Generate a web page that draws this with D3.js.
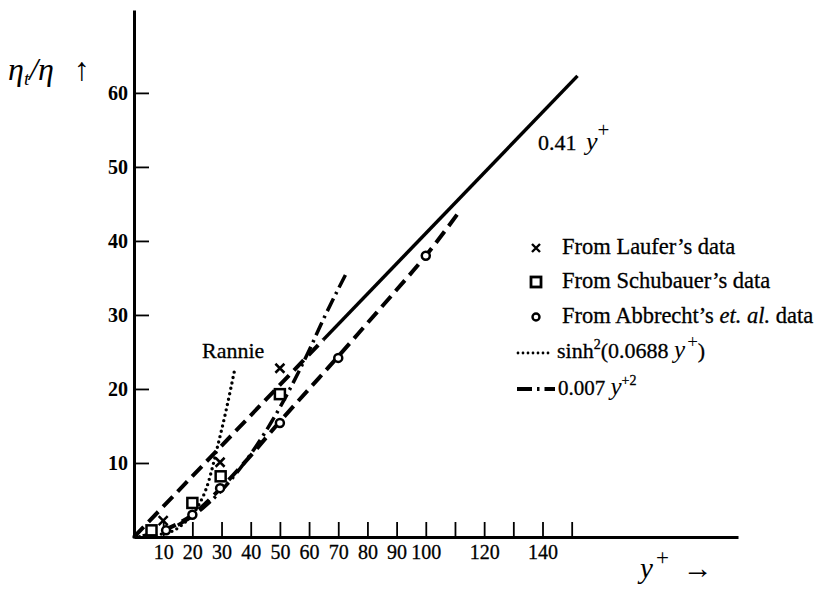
<!DOCTYPE html>
<html>
<head>
<meta charset="utf-8">
<script src="https://cdn.jsdelivr.net/npm/d3@7"></script>
<style>
  body { margin: 0; background: #fff; }
  text { font-family: "Liberation Serif", "DejaVu Serif", serif; fill: #000; }
</style>
</head>
<body>
<div id="chart"></div>
<script>
var width = 822;
var height = 589;

// axis ticks
var xTicks = [10, 20, 30, 40, 50, 60, 70, 80, 90, 100, 110, 120, 130, 140, 150];
var xTickLabels = [10, 20, 30, 40, 50, 60, 70, 80, 90, 100, 120, 140];
var yTicks = [10, 20, 30, 40, 50, 60];

// 0.41 y+ (dashed near the wall, solid further out)
var kappaDashX = [0, 65];
var kappaDashY = [0, 26.7];
var kappaSolidX = [65, 152];
var kappaSolidY = [26.7, 62.3];

// lower long dashed curve
var lowerX = [3, 10, 20, 30, 40, 50, 60, 70, 80, 90, 100, 111];
var lowerY = [0.1, 0.9, 3.0, 6.7, 11.0, 15.6, 20.0, 24.4, 28.9, 33.4, 38.0, 43.7];

// Rannie, sinh^2(0.0688 y+)
var rannieX = [0, 8, 14, 18, 22, 25, 28.8, 31.5, 34.6];
var rannieY = [0, 0.3, 0.95, 2.2, 4.2, 6.8, 12.5, 17.0, 22.8];

// 0.007 y+^2
var quadX = [15, 20, 30, 40, 50, 60, 65, 70, 73];
var quadY = [1.6, 2.8, 6.3, 11.2, 17.5, 25.2, 29.5, 33.5, 35.8];

// measured points
var lauferX = [10, 29.5, 50];
var lauferY = [2.2, 10.1, 22.8];
var schubX = [6, 20, 29.7, 50];
var schubY = [0.9, 4.6, 8.2, 19.3];
var abbrX = [11, 20, 29.5, 50, 70, 100];
var abbrY = [0.9, 3.0, 6.6, 15.4, 24.2, 38.0];

var svg = d3.select("#chart")
			.append("svg")
			.attr("width", width)
			.attr("height", height);

var x = d3.scaleLinear().domain([0, 207]).range([134, 738]);
var y = d3.scaleLinear().domain([0, 71.2]).range([537, 10]);

function pts(xs, ys) {
	return xs.map(function(d, i) { return [x(d), y(ys[i])]; });
}

var line = d3.line().curve(d3.curveMonotoneX);

// axes
var xAxis = d3.axisBottom(x)
			.tickValues(xTicks)
			.tickSizeInner(-15)
			.tickSizeOuter(0)
			.tickPadding(8)
			.tickFormat(function(d) { return xTickLabels.indexOf(d) >= 0 ? d : ""; });

var gx = svg.append("g")
			.attr("transform", "translate(0," + y(0) + ")")
			.call(xAxis);
gx.selectAll("text").attr("font-size", 20).attr("font-family", "Liberation Serif")
	.attr("stroke", "#000").attr("stroke-width", 0.3);

var yAxis = d3.axisLeft(y)
			.tickValues(yTicks)
			.tickSizeInner(-15)
			.tickSizeOuter(0)
			.tickPadding(6);

var gy = svg.append("g")
			.attr("transform", "translate(" + x(0) + ",0)")
			.call(yAxis);
gy.selectAll("text").attr("font-size", 20).attr("font-weight", "bold").attr("font-family", "Liberation Serif");

svg.selectAll(".domain").attr("stroke", "#000").attr("stroke-width", 3);
svg.selectAll(".tick line").attr("stroke", "#000").attr("stroke-width", 1.8);

// curves
var curves = svg.append("g").attr("fill", "none").attr("stroke", "#000");

curves.append("path")
		.attr("d", line(pts(kappaDashX, kappaDashY)))
		.attr("stroke-width", 4)
		.attr("stroke-dasharray", "14,7");

curves.append("path")
		.attr("d", line(pts(kappaSolidX, kappaSolidY)))
		.attr("stroke-width", 3.5);

curves.append("path")
		.attr("d", line(pts(lowerX, lowerY)))
		.attr("stroke-width", 4)
		.attr("stroke-dasharray", "14,7");

curves.append("path")
		.attr("d", line(pts(quadX, quadY)))
		.attr("stroke-width", 3.5)
		.attr("stroke-dasharray", "14,5,2.5,5");

curves.append("path")
		.attr("d", line(pts(rannieX, rannieY)))
		.attr("stroke-width", 3.4)
		.attr("stroke-linecap", "round")
		.attr("stroke-dasharray", "0,5.5");

// markers
var marks = svg.append("g").attr("fill", "#fff").attr("stroke", "#000").attr("stroke-width", 2.5);

function cross(g, cx, cy, s) {
	g.append("path")
		.attr("d", "M" + (cx - s) + "," + (cy - s) + "L" + (cx + s) + "," + (cy + s) +
					"M" + (cx - s) + "," + (cy + s) + "L" + (cx + s) + "," + (cy - s))
		.attr("fill", "none");
}

for (var i = 0; i < schubX.length; i++) {
	marks.append("rect")
		.attr("x", x(schubX[i]) - 5)
		.attr("y", y(schubY[i]) - 5)
		.attr("width", 10)
		.attr("height", 10);
}
for (i = 0; i < abbrX.length; i++) {
	marks.append("circle")
		.attr("cx", x(abbrX[i]))
		.attr("cy", y(abbrY[i]))
		.attr("r", 4);
}
for (i = 0; i < lauferX.length; i++) {
	cross(marks, x(lauferX[i]), y(lauferY[i]), 4.5);
}

// labels
var lab = svg.append("g");

lab.append("text").attr("x", 202).attr("y", 358).attr("font-size", 22)
	.attr("stroke", "#000").attr("stroke-width", 0.3).text("Rannie");

var k = lab.append("text").attr("x", 538).attr("y", 150).attr("font-size", 22);
k.append("tspan").attr("stroke", "#000").attr("stroke-width", 0.3).text("0.41 ");
k.append("tspan").attr("font-style", "italic").attr("font-size", 26).attr("dx", 4).text("y");
k.append("tspan").attr("dy", -13).attr("font-size", 21).text("+");

var yl = lab.append("text").attr("x", 8).attr("y", 80).attr("font-size", 32).attr("font-style", "italic");
yl.append("tspan").text("η");
yl.append("tspan").attr("dy", 5).attr("font-size", 19).text("t");
yl.append("tspan").attr("dy", -5).text("/η");
yl.append("tspan").attr("dx", 20).attr("font-style", "normal").attr("font-size", 32).text("↑");

var xl = lab.append("text").attr("x", 640).attr("y", 578).attr("font-size", 29).attr("font-style", "italic");
xl.append("tspan").text("y");
xl.append("tspan").attr("dy", -13).attr("dx", 3).attr("font-style", "normal").attr("font-size", 23).text("+");
xl.append("tspan").attr("dy", 13).attr("dx", 14).attr("font-style", "normal").attr("font-size", 30).text("→");

// legend
var leg = svg.append("g");
var rowY = [254, 288, 323, 358, 395];

cross(leg.append("g").attr("stroke", "#000").attr("stroke-width", 2.4), 536, rowY[0] - 6, 4);
leg.append("rect").attr("x", 531).attr("y", rowY[1] - 11).attr("width", 10).attr("height", 10)
	.attr("fill", "#fff").attr("stroke", "#000").attr("stroke-width", 2.8);
leg.append("circle").attr("cx", 536).attr("cy", rowY[2] - 6).attr("r", 3.5)
	.attr("fill", "#fff").attr("stroke", "#000").attr("stroke-width", 2.4);

leg.append("line").attr("x1", 518).attr("x2", 553).attr("y1", rowY[3] - 5).attr("y2", rowY[3] - 5)
	.attr("stroke", "#000").attr("stroke-width", 2.8).attr("stroke-linecap", "round").attr("stroke-dasharray", "0,5");
leg.append("line").attr("x1", 517).attr("x2", 555).attr("y1", rowY[4] - 6).attr("y2", rowY[4] - 6)
	.attr("stroke", "#000").attr("stroke-width", 3.8).attr("stroke-dasharray", "15,5,2.5,5");

var legText = leg.append("g").attr("font-size", 22.5).attr("stroke", "#000").attr("stroke-width", 0.3);

legText.append("text").attr("x", 562).attr("y", rowY[0]).text("From Laufer’s data");
legText.append("text").attr("x", 562).attr("y", rowY[1]).text("From Schubauer’s data");
var t3 = legText.append("text").attr("x", 562).attr("y", rowY[2]);
t3.append("tspan").text("From Abbrecht’s ");
t3.append("tspan").attr("font-style", "italic").text("et. al.");
t3.append("tspan").text(" data");

var t4 = legText.append("text").attr("x", 557).attr("y", rowY[3]).attr("font-size", 22);
t4.append("tspan").text("sinh");
t4.append("tspan").attr("dy", -9).attr("font-size", 14).text("2");
t4.append("tspan").attr("dy", 9).text("(0.0688 ");
t4.append("tspan").attr("font-style", "italic").attr("font-size", 25).attr("stroke-width", 0).text("y");
t4.append("tspan").attr("dy", -10).attr("dx", 2).attr("font-size", 19).attr("stroke-width", 0).text("+");
t4.append("tspan").attr("dy", 10).text(")");

var t5 = legText.append("text").attr("x", 558).attr("y", rowY[4]).attr("font-size", 21);
t5.append("tspan").text("0.007 ");
t5.append("tspan").attr("font-style", "italic").attr("font-size", 25).attr("stroke-width", 0).text("y");
t5.append("tspan").attr("dy", -10).attr("font-size", 14).text("+2");
</script>
</body>
</html>
